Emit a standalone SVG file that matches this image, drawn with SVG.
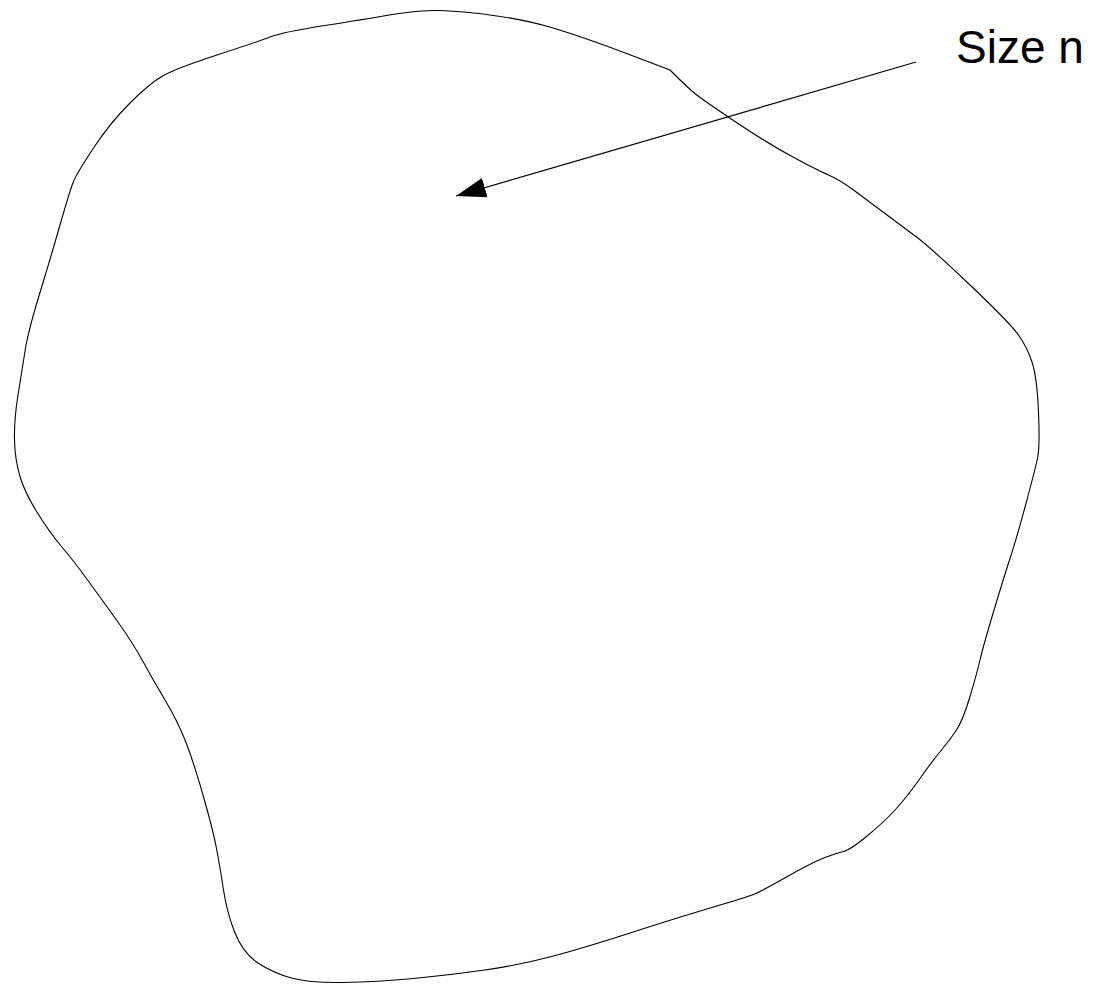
<svg xmlns="http://www.w3.org/2000/svg" width="1099" height="986" viewBox="0 0 1099 986">
<style>
.outline{fill:none;stroke:#000;stroke-width:1.1}
.conn{fill:none;stroke:#000;stroke-width:1.2}
.label{font-family:"Liberation Sans",Arial,sans-serif;font-size:46px;fill:#000}
</style>
<defs>
<marker id="arrow" markerUnits="userSpaceOnUse" viewBox="0 0 30 20" markerWidth="30" markerHeight="20" refX="30" refY="10" orient="auto">
<path d="M0,0 L30,10 L0,20 z" fill="#000"/>
</marker>
</defs>
<rect width="1099" height="986" fill="#fff"/>
<g id="blob">
<path class="outline" d="M421.5,11 Q443,9 483,14 Q523,19 553,28 Q583,37 626.5,53.5 L670,70 Q688,88 695.5,94 Q703,100 735,121.5 Q767,143 792,156.5 Q817,170 828.5,175 Q840,180 853.5,190 Q867,200 885,213.5 Q903,227 916.5,237 Q930,247 970,285 Q1010,323 1018.5,335 Q1027,347 1032,362 Q1037,377 1038.5,412 Q1040,447 1037.5,458.5 Q1035,470 1026,503.5 Q1017,537 1010,558.5 Q1003,580 993,613.5 Q983,647 980,660 Q977,673 970,696.5 Q963,720 956.5,730 Q950,740 941.5,750 Q933,760 920,778.5 Q907,797 895,810 Q883,823 866.5,836.5 Q850,850 843.5,851.5 Q837,853 825,857.5 Q813,862 786.5,877 Q760,892 753.5,894.5 Q747,897 708.5,908.5 Q670,920 628.5,933.5 Q587,947 553.5,956 Q520,965 485,970 Q450,975 413.5,978.5 Q377,982 343.5,982.5 Q310,983 291.5,978 Q273,973 258,963 Q243,953 235,933 Q227,913 223.5,890 Q220,867 216.5,848.5 Q213,830 203,795 Q193,760 185,740 Q177,720 165,700 Q153,680 143,661.5 Q133,643 116.5,620 Q100,597 86.5,578.5 Q73,560 61.5,546.5 Q50,533 37.5,513 Q25,493 20,476.5 Q15,460 14.5,440 Q14,420 18,395 Q22,370 26,345 Q30,325 40,292.5 Q50,260 60,225 Q70,190 73.5,181.5 Q77,173 93.5,148 Q110,123 130,103 Q150,83 163.5,75.5 Q177,68 217,55 Q257,42 270,37 Q283,32 325,25.5 Q367,19 383.5,16 Q400,13 421.5,11 Z"/>
</g>
<g id="label">
<text class="label" x="956" y="63">Size n</text>
</g>
<g id="connectors">
<line class="conn" x1="916" y1="62" x2="456" y2="196" marker-end="url(#arrow)"/>
</g>
</svg>
